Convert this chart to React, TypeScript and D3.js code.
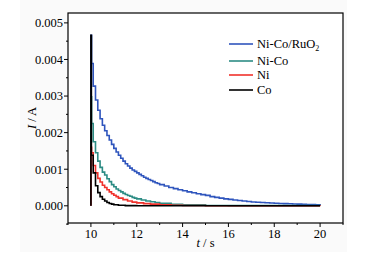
import React from "react";
import * as d3 from "d3";

// ---- Data (current in A, time in s) ----
const coTimes = [10, 10, 10.02, 10.1, 10.2, 10.3, 10.4, 10.5, 10.6, 10.7, 10.8, 10.9, 11.0, 11.2, 11.5, 12.0, 20.0];
const coValues = [0, 0.00466, 0.00138, 0.0009, 0.00055, 0.00036, 0.00025, 0.00018, 0.00013, 0.00009, 0.000065, 0.000045, 0.00003, 0.000015, 0.000005, 0, 0];

const niTimes = [10, 10, 10.03, 10.1, 10.2, 10.3, 10.4, 10.5, 10.6, 10.7, 10.8, 10.9, 11.0, 11.1, 11.2, 11.4, 11.6, 11.8, 12.0, 12.3, 12.6, 13.0, 13.5, 14.0, 15.0, 20.0];
const niValues = [0, 0.0016, 0.00145, 0.0011, 0.0009, 0.00075, 0.00065, 0.00056, 0.0005, 0.00044, 0.00038, 0.00033, 0.00029, 0.00025, 0.00021, 0.00017, 0.00013, 0.0001, 0.00008, 0.00006, 0.000045, 0.00003, 0.000015, 0.000008, 0.000003, 0];

const nicoTimes = [10, 10, 10.03, 10.1, 10.2, 10.3, 10.4, 10.5, 10.6, 10.7, 10.8, 10.9, 11.0, 11.1, 11.2, 11.3, 11.4, 11.5, 11.6, 11.7, 11.8, 11.9, 12.0, 12.2, 12.4, 12.6, 12.8, 13.0, 13.5, 14.0, 15.0, 16.0, 20.0];
const nicoValues = [0, 0.00298, 0.00225, 0.00175, 0.00145, 0.00122, 0.00105, 0.00092, 0.00084, 0.00074, 0.00066, 0.00058, 0.00052, 0.00046, 0.00042, 0.00038, 0.00034, 0.00031, 0.00028, 0.00026, 0.00023, 0.00021, 0.00019, 0.00016, 0.00013, 0.00011, 0.00009, 0.00007, 0.00004, 0.000025, 0.00001, 0.000005, 0];

const rutTimes = [10, 10, 10.03, 10.1, 10.2, 10.3, 10.4, 10.5, 10.6, 10.7, 10.8, 10.9, 11.0, 11.1, 11.2, 11.3, 11.4, 11.5, 11.6, 11.7, 11.8, 11.9, 12.0, 12.1, 12.2, 12.3, 12.4, 12.5, 12.6, 12.7, 12.8, 12.9, 13.0, 13.2, 13.4, 13.6, 13.8, 14.0, 14.2, 14.4, 14.6, 14.8, 15.0, 15.2, 15.4, 15.6, 15.8, 16.0, 16.2, 16.4, 16.6, 16.8, 17.0, 17.2, 17.4, 17.6, 17.8, 18.0, 18.2, 18.4, 18.6, 18.8, 19.0, 19.2, 19.4, 19.6, 19.8, 20.0];
const rutValues = [0, 0.00466, 0.00389, 0.00327, 0.00289, 0.00261, 0.00238, 0.0022, 0.00205, 0.00192, 0.0018, 0.00168, 0.00157, 0.00147, 0.00138, 0.0013, 0.00122, 0.00115, 0.00109, 0.00103, 0.00098, 0.00094, 0.0009, 0.00086, 0.00082, 0.00078, 0.00075, 0.00072, 0.00069, 0.00066, 0.00063, 0.00061, 0.00058, 0.00054, 0.0005, 0.00047, 0.00044, 0.00041, 0.00038, 0.000355, 0.00033, 0.000305, 0.000285, 0.00025, 0.00023, 0.00021, 0.00019, 0.000175, 0.00016, 0.000145, 0.00013, 0.000117, 0.000106, 0.000097, 0.000089, 0.000082, 0.000076, 0.00007, 0.000065, 0.00006, 0.000055, 0.00005, 0.000045, 0.000041, 0.000037, 0.000033, 0.000029, 0.000025];

const seriesNames = ["Ni-Co/RuO2", "Ni-Co", "Ni", "Co"];
const seriesColors = ["#2f55bd", "#2c8c84", "#f0322c", "#000000"];

const xTicks = [10, 12, 14, 16, 18, 20];
const xMinorTicks = [9, 11, 13, 15, 17, 19, 21];
const yTicks = [0, 0.001, 0.002, 0.003, 0.004, 0.005];
const yMinorTicks = [-0.0005, 0.0005, 0.0015, 0.0025, 0.0035, 0.0045];

const W = 365;
const H = 256;
const M = { left: 68, top: 13, right: 343, bottom: 223 };
const FONT = "Liberation Serif, Times New Roman, serif";

export default function App() {
  const x = d3.scaleLinear().domain([9, 21]).range([M.left, M.right]);
  const y = d3.scaleLinear().domain([-0.00047, 0.00527]).range([M.bottom, M.top]);

  const line = d3
    .line<[number, number]>()
    .x((d) => x(d[0]))
    .y((d) => y(d[1]))
    .curve(d3.curveStepAfter);

  const series = [
    { times: rutTimes, values: rutValues },
    { times: nicoTimes, values: nicoValues },
    { times: niTimes, values: niValues },
    { times: coTimes, values: coValues },
  ];

  const legendY = [44, 61, 75, 90];
  const txt = { fontFamily: FONT, fontSize: 12.5 };

  return (
    <svg
      width={W}
      height={H}
      style={{ position: "absolute", left: 0, top: 0, background: "#ffffff", fontFamily: FONT }}
    >
      <rect x={20} y={0} width={327} height={252} fill="#fafafa" />
      <rect x={M.left} y={M.top} width={M.right - M.left} height={M.bottom - M.top} fill="#ffffff" />

      {series.map((s, i) => (
        <path
          key={seriesNames[i]}
          d={line(s.times.map((t, k) => [t, s.values[k]] as [number, number])) || ""}
          fill="none"
          stroke={seriesColors[i]}
          strokeWidth={1.6}
        />
      ))}

      <rect
        x={M.left}
        y={M.top}
        width={M.right - M.left}
        height={M.bottom - M.top}
        fill="none"
        stroke="#000"
        strokeWidth={1.2}
      />

      {yTicks.map((v) => (
        <g key={"y" + v}>
          <line x1={M.left - 4} x2={M.left} y1={y(v)} y2={y(v)} stroke="#000" strokeWidth={1} />
          <text x={M.left - 5} y={y(v)} dy="0.35em" textAnchor="end" style={txt}>
            {d3.format(".3f")(v)}
          </text>
        </g>
      ))}
      {yMinorTicks.map((v) => (
        <line key={"ym" + v} x1={M.left - 2} x2={M.left} y1={y(v)} y2={y(v)} stroke="#000" strokeWidth={1} />
      ))}

      {xTicks.map((v) => (
        <g key={"x" + v}>
          <line x1={x(v)} x2={x(v)} y1={M.bottom} y2={M.bottom + 4} stroke="#000" strokeWidth={1} />
          <text x={x(v)} y={M.bottom + 15} textAnchor="middle" style={txt}>
            {v}
          </text>
        </g>
      ))}
      {xMinorTicks.map((v) => (
        <line key={"xm" + v} x1={x(v)} x2={x(v)} y1={M.bottom} y2={M.bottom + 2} stroke="#000" strokeWidth={1} />
      ))}

      <text x={(M.left + M.right) / 2} y={247} textAnchor="middle" style={txt}>
        <tspan fontStyle="italic">t</tspan> / s
      </text>
      <text transform={`translate(36, ${(M.top + M.bottom) / 2}) rotate(-90)`} textAnchor="middle" style={txt}>
        <tspan fontStyle="italic">I</tspan> / A
      </text>

      {seriesNames.map((name, i) => (
        <g key={"lg" + name}>
          <line x1={229} x2={253} y1={legendY[i]} y2={legendY[i]} stroke={seriesColors[i]} strokeWidth={1.6} />
          <text x={257} y={legendY[i]} dy="0.35em" style={txt}>
            {i === 0 ? (
              <>
                Ni-Co/RuO<tspan fontSize={8} dy="3">2</tspan>
              </>
            ) : (
              name
            )}
          </text>
        </g>
      ))}
    </svg>
  );
}
